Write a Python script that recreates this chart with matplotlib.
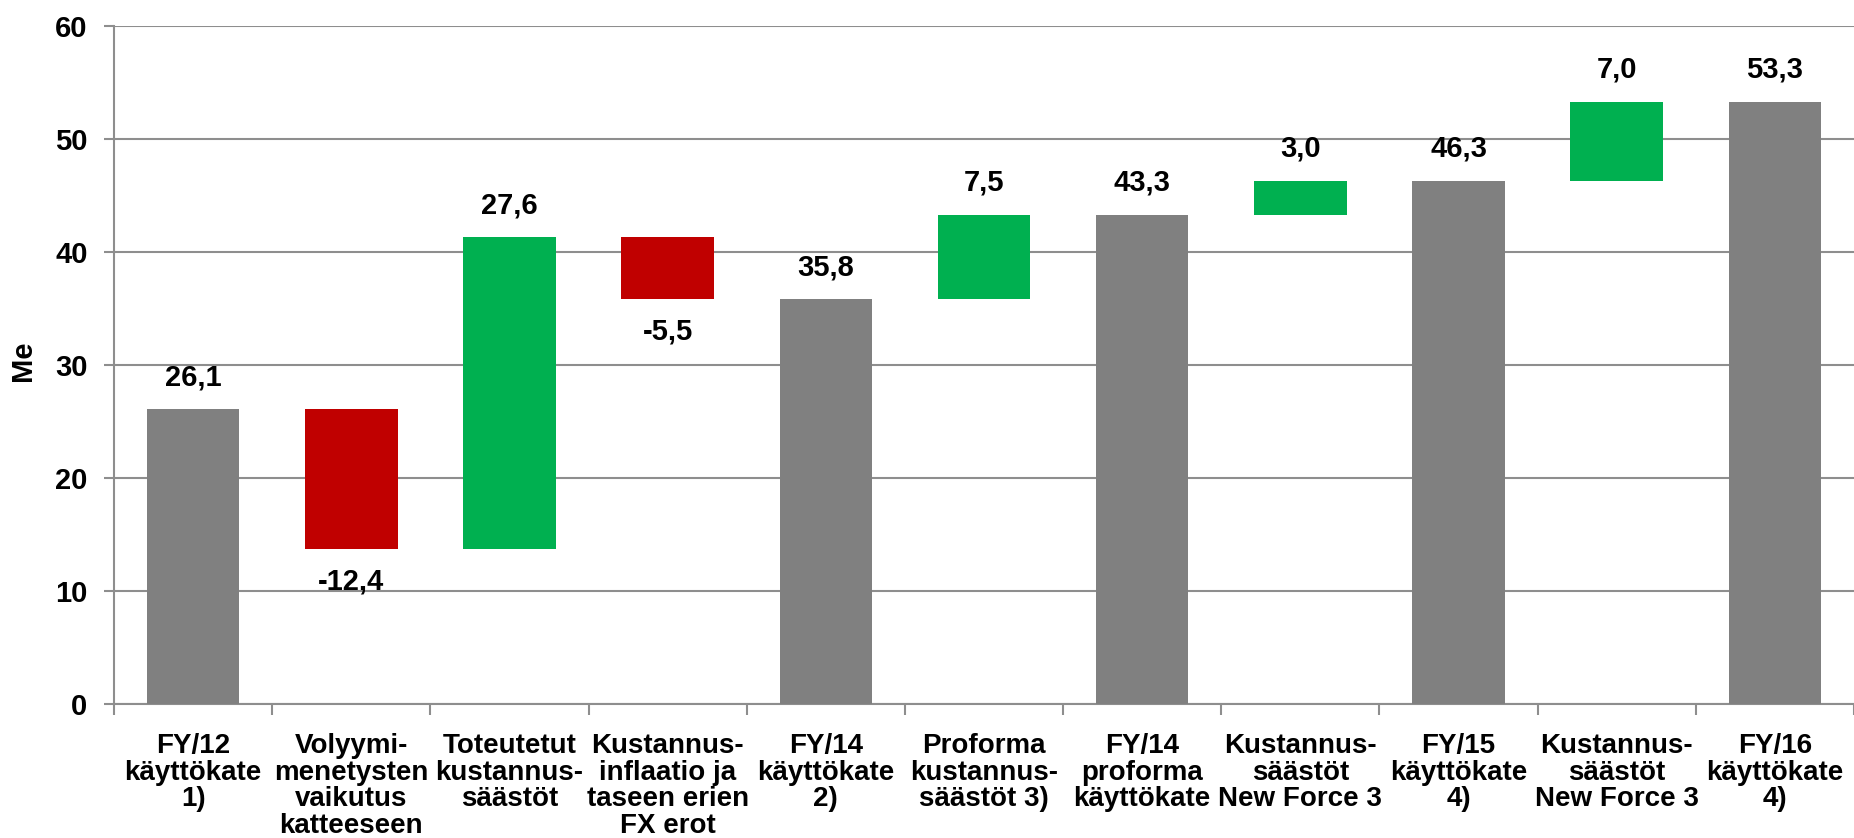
import numpy as np
import matplotlib
matplotlib.use("Agg")
import matplotlib.pyplot as plt

plt.rcParams['font.family'] = ['Liberation Sans', 'DejaVu Sans']
plt.rcParams['font.weight'] = 'bold'

categories = [
    "FY/12\nkäyttökate\n1)",
    "Volyymi-\nmenetysten\nvaikutus\nkatteeseen",
    "Toteutetut\nkustannus-\nsäästöt",
    "Kustannus-\ninflaatio ja\ntaseen erien\nFX erot",
    "FY/14\nkäyttökate\n2)",
    "Proforma\nkustannus-\nsäästöt 3)",
    "FY/14\nproforma\nkäyttökate",
    "Kustannus-\nsäästöt\nNew Force 3",
    "FY/15\nkäyttökate\n4)",
    "Kustannus-\nsäästöt\nNew Force 3",
    "FY/16\nkäyttökate\n4)",
]
values = [26.1, -12.4, 27.6, -5.5, 35.8, 7.5, 43.3, 3.0, 46.3, 7.0, 53.3]
is_total = [True, False, False, False, True, False, True, False, True, False, True]

GRAY = "#808080"
GREEN = "#00B050"
RED = "#C00000"
LINE = "#8e8e8e"

# waterfall bottoms / heights
bottoms, heights, colors = [], [], []
running = 0.0
for v, tot in zip(values, is_total):
    if tot:
        bottoms.append(0.0)
        heights.append(v)
        colors.append(GRAY)
        running = v
    else:
        if v >= 0:
            bottoms.append(running)
            colors.append(GREEN)
        else:
            bottoms.append(running + v)
            colors.append(RED)
        heights.append(abs(v))
        running += v

fig = plt.figure(figsize=(18.54, 8.38), dpi=100)
ax = fig.add_axes([114 / 1854, 1 - 704 / 838, 1 - 114 / 1854, 678 / 838])

x = np.arange(len(values))
ax.bar(x, heights, bottom=bottoms, width=0.585, color=colors, zorder=3)

for xi, v, b, h in zip(x, values, bottoms, heights):
    txt = f"{v:.1f}".replace(".", ",")
    if v >= 0:
        ax.annotate(txt, (xi, b + h), xytext=(0, 23), textcoords="offset points",
                    ha="center", va="center", fontsize=21, fontweight="bold")
    else:
        ax.annotate(txt, (xi, b), xytext=(0, -23), textcoords="offset points",
                    ha="center", va="center", fontsize=21, fontweight="bold")

ax.set_ylim(0, 60)
ax.set_yticks(np.arange(0, 61, 10))
ax.set_xlim(-0.5, 10.5 - 12 / 159.3)
ax.set_xticks(x)
ax.set_xticklabels(categories, fontsize=20, fontweight="bold", linespacing=1.03)
ax.set_xticks(np.arange(-0.5, 10.6, 1), minor=True)
ax.tick_params(axis="x", which="major", length=0, pad=21)
ax.tick_params(axis="x", which="minor", length=8, width=1.5, color=LINE)
ax.tick_params(axis="y", length=7, width=1.5, color=LINE, pad=12, labelsize=21)
for lab in ax.get_yticklabels():
    lab.set_fontweight("bold")

ax.grid(axis="y", color=LINE, linewidth=1.5, zorder=0)
for s in ["top", "right"]:
    ax.spines[s].set_visible(False)
for s in ["left", "bottom"]:
    ax.spines[s].set_color(LINE)
    ax.spines[s].set_linewidth(1.5)

ax.set_ylabel("Me", fontsize=21, fontweight="bold")
ax.yaxis.set_label_coords(-0.044, 0.507)

fig.savefig("out.png", dpi=100)
